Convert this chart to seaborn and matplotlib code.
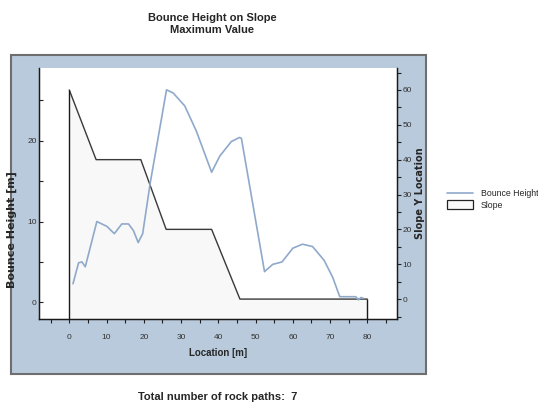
import numpy as np
import pandas as pd
import matplotlib
matplotlib.use("Agg")
import matplotlib.pyplot as plt
import seaborn as sns
from matplotlib.patches import Rectangle, Patch
from matplotlib.lines import Line2D

# bounce height (left axis, m)
bounce_x = [1.0, 2.5, 3.4, 4.3, 7.4, 10.1, 12.1, 14.1, 15.9, 17.2, 18.5, 19.7, 21.7,
            26.1, 27.9, 31.0, 34.1, 38.2, 40.4, 43.5, 45.7, 46.2, 52.4, 54.6, 57.1,
            60.0, 62.6, 65.3, 68.4, 70.7, 72.6, 76.9, 77.6, 78.3, 78.9]
bounce_y = [2.3, 4.9, 5.0, 4.4, 10.0, 9.4, 8.5, 9.7, 9.7, 8.9, 7.4, 8.5, 14.7,
            26.3, 25.9, 24.3, 21.2, 16.1, 18.1, 19.9, 20.4, 20.3, 3.8, 4.7, 5.0,
            6.7, 7.2, 6.9, 5.2, 3.1, 0.7, 0.7, 0.3, 0.6, 0.5]

# slope profile (right axis)
slope_x = [0, 7.2, 19.2, 26.0, 38.2, 45.8, 80]
slope_y = [60, 40, 40, 20, 20, 0, 0]

n_paths = 7

sns.set_style("white")
plt.rcParams['font.family'] = ['Liberation Sans', 'DejaVu Sans']

fig = plt.figure(figsize=(5.38, 4.07), dpi=100)

# blue panel behind the plot
panel = Rectangle((0.020, 0.080), 0.771, 0.785, transform=fig.transFigure,
                  facecolor="#b9cadc", edgecolor="#6e6e6e", linewidth=1.5, zorder=-10)
fig.patches.append(panel)

ax = fig.add_axes([0.073, 0.216, 0.665, 0.617])
ax2 = ax.twinx()
ax.set_zorder(ax2.get_zorder() + 1)
ax.patch.set_visible(False)
ax2.patch.set_visible(True)
ax2.patch.set_facecolor("white")

y2_lo, y2_hi = -5.74, 66.3
ax2.set_ylim(y2_lo, y2_hi)
ax2.fill_between(slope_x, slope_y, y2_lo, color="#f8f8f8", zorder=1)
ax2.plot(slope_x, slope_y, color="#3a3a3a", lw=1.0, zorder=2)
ax2.vlines([slope_x[0], slope_x[-1]], y2_lo, [slope_y[0], slope_y[-1]],
           color="#1a1a1a", lw=1.0, zorder=2)

df = pd.DataFrame({"x": bounce_x, "y": bounce_y})
sns.lineplot(data=df, x="x", y="y", ax=ax, color="#8fa9cb", lw=1.2, sort=False)

ax.set_xlim(-8.05, 87.97)
ax.set_ylim(-2.07, 29.0)

tick_font = dict(fontsize=6, color="#333333")
ax.set_xticks(np.arange(-5, 90, 5))
ax.set_xticklabels([str(v) if v % 10 == 0 and 0 <= v <= 80 else "" for v in range(-5, 90, 5)], **tick_font)
ax.set_yticks(np.arange(0, 30, 5))
ax.set_yticklabels([str(v) if v % 10 == 0 else "" for v in range(0, 30, 5)], **tick_font)
ax2.set_yticks(np.arange(-5, 66, 5))
ax2.set_yticklabels([str(v) if v % 10 == 0 and v >= 0 else "" for v in range(-5, 66, 5)], **tick_font)

ax.tick_params(axis="x", direction="out", length=3, width=0.8, pad=8, color="#222222", bottom=True)
ax.tick_params(axis="y", direction="in", length=3, width=0.8, pad=2, color="#222222", left=True)
ax2.tick_params(axis="y", direction="out", length=3, width=0.8, pad=1, color="#222222", right=True)

for a in (ax, ax2):
    a.spines["top"].set_visible(False)
    for s in ("left", "right", "bottom"):
        a.spines[s].set_color("#1a1a1a")
        a.spines[s].set_linewidth(0.9)

ax.set_xlabel("Location [m]", fontsize=7, fontweight="bold", labelpad=5)
ax.set_ylabel("Bounce Height [m]", fontsize=8, fontweight="bold", family=["DejaVu Sans"])
ax.yaxis.set_label_coords(-0.062, 0.355)
ax2.set_ylabel("Slope Y Location", fontsize=7, fontweight="bold", family=["DejaVu Sans"])
ax2.yaxis.set_label_coords(1.05, 0.50)

fig.text(0.394, 1 - 24 / 407, "Bounce Height on Slope\nMaximum Value",
         ha="center", va="center", fontsize=8, fontweight="bold", linespacing=1.25)
fig.text(0.405, 1 - 397 / 407, f"Total number of rock paths:  {n_paths}",
         ha="center", va="center", fontsize=8, fontweight="bold")

handles = [Line2D([0], [0], color="#8fa9cb", lw=1.2),
           Patch(facecolor="#f8f8f8", edgecolor="#222222", linewidth=0.9)]
fig.legend(handles, ["Bounce Height", "Slope"], loc="upper left",
           bbox_to_anchor=(0.83, 1 - 189 / 407), frameon=False, fontsize=6.3,
           handlelength=3.0, handleheight=1.2, handletextpad=0.9, labelspacing=0.2,
           borderpad=0, borderaxespad=0)

fig.savefig("out.png", dpi=100)
